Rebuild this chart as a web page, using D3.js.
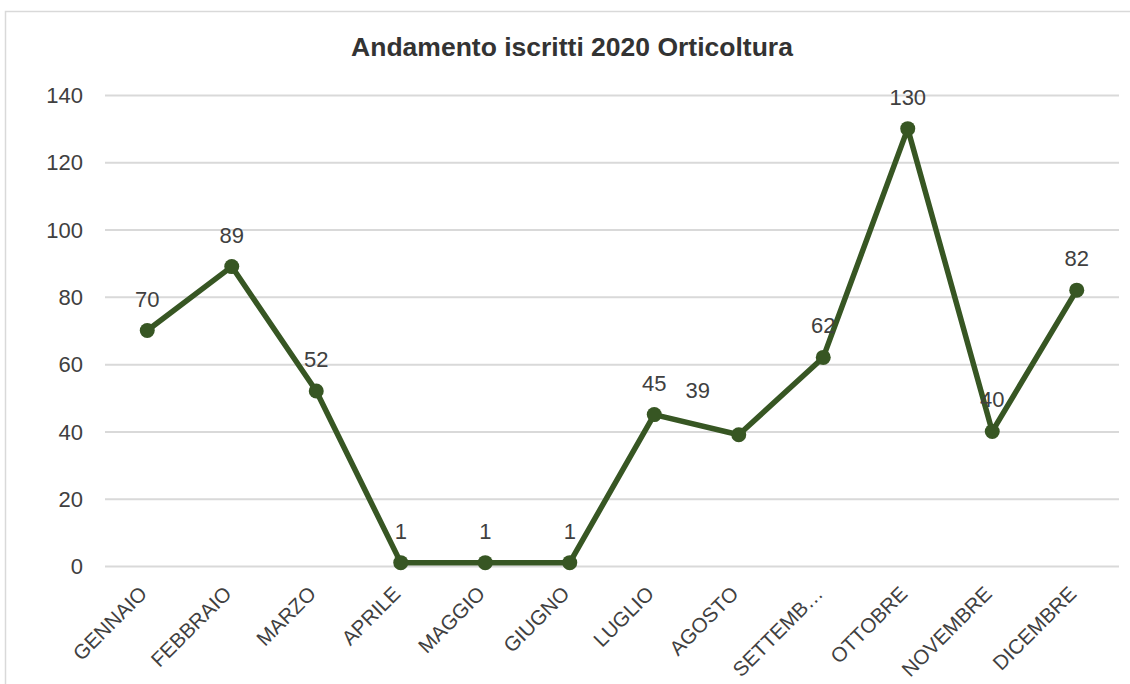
<!DOCTYPE html>
<html><head><meta charset="utf-8">
<script src="https://cdn.jsdelivr.net/npm/d3@7"></script>
<style>html,body{margin:0;padding:0;background:#fff;}svg{display:block;}</style>
</head><body>
<svg id="chart" width="1130" height="684"></svg>
<script>
const title = "Andamento iscritti 2020 Orticoltura";
const months = ["GENNAIO","FEBBRAIO","MARZO","APRILE","MAGGIO","GIUGNO","LUGLIO","AGOSTO","SETTEMB…","OTTOBRE","NOVEMBRE","DICEMBRE"];
const iscritti = [70, 89, 52, 1, 1, 1, 45, 39, 62, 130, 40, 82];
const yTicks = [0, 20, 40, 60, 80, 100, 120, 140];

const svg = d3.select("#chart");
const font = "'Liberation Sans', Arial, sans-serif";
const margin = {left:105, right:1119, top:95, bottom:566};

svg.append("rect").attr("x",5.5).attr("y",11.5).attr("width",1140).attr("height",700)
  .attr("fill","#fff").attr("stroke","#d9d9d9").attr("stroke-width",1.5);

const x = d3.scalePoint().domain(months).range([margin.left, margin.right]).padding(0.5);
const y = d3.scaleLinear().domain([0,140]).range([margin.bottom, margin.top]);

svg.append("text").attr("x",572).attr("y",56).attr("text-anchor","middle")
  .attr("font-family",font).attr("font-weight","bold").attr("font-size",26.5)
  .attr("fill","#333").text(title);

const yAxis = svg.append("g").attr("transform",`translate(${margin.left},0)`)
  .call(d3.axisLeft(y).tickValues(yTicks).tickSize(-(margin.right-margin.left)).tickPadding(22));
yAxis.select(".domain").remove();
yAxis.selectAll("line").attr("stroke","#d9d9d9").attr("stroke-width",2);
yAxis.selectAll("text").attr("font-family",font).attr("font-size",22).attr("fill","#404040").attr("dy","0.35em");

const xg = svg.append("g");
xg.selectAll("text").data(months).join("text")
  .attr("transform",d=>`translate(${x(d)+1},595) rotate(-45)`)
  .attr("text-anchor","end").attr("font-family",font).attr("font-size",20.5).attr("fill","#404040")
  .text(d=>d);

const pts = months.map((m,i)=>({m, v: iscritti[i], i}));
svg.append("path").datum(pts)
  .attr("d", d3.line().x(d=>x(d.m)).y(d=>y(d.v)))
  .attr("fill","none").attr("stroke","#375623").attr("stroke-width",5.5).attr("stroke-linejoin","round");
svg.selectAll("circle.pt").data(pts).join("circle").attr("class","pt")
  .attr("cx",d=>x(d.m)).attr("cy",d=>y(d.v)).attr("r",7.5).attr("fill","#375623");

const nudge = {7: [-41, -13]};
svg.selectAll("text.lbl").data(pts).join("text").attr("class","lbl")
  .attr("x",d=>x(d.m) + (nudge[d.i]?nudge[d.i][0]:0))
  .attr("y",d=>y(d.v) - 24 + (nudge[d.i]?nudge[d.i][1]:0))
  .attr("text-anchor","middle").attr("font-family",font).attr("font-size",22).attr("fill","#404040")
  .text(d=>d.v);
</script>
</body></html>
